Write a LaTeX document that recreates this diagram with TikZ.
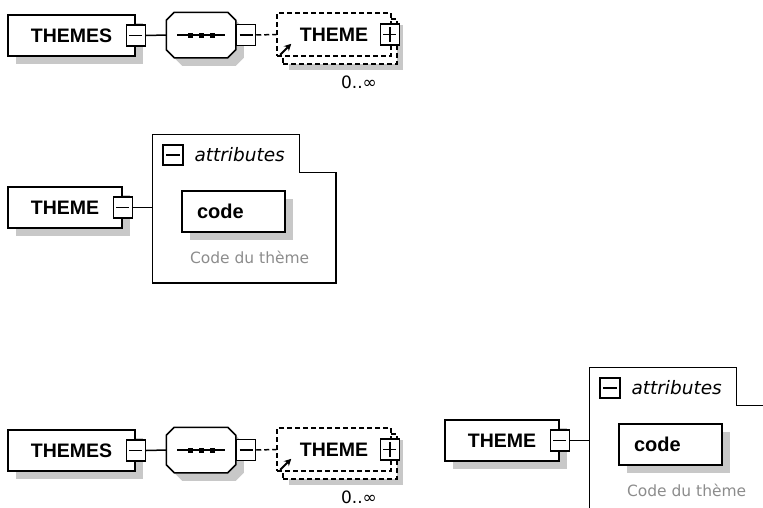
\documentclass[tikz,border=0pt]{standalone}
\usepackage{fontspec}
\setmainfont{DejaVu Sans}
\newfontfamily\labelfont{Liberation Sans}
\usetikzlibrary{shadows,arrows.meta,positioning}
\definecolor{shadowgray}{RGB}{200,200,200}
\definecolor{notegray}{RGB}{140,140,140}

% THEMES -> sequence -> THEME (0..oo)
\newcommand{\ThemesModel}{%
  \node[elem, minimum width=127, minimum height=41] (themes) at (71.5,35.5) {THEMES};
  \node[minusbox] (themes-x) at (themes.east) {};
  \node[minimum width=68, minimum height=44, inner sep=0] (seq) at (201,35) {};
  \filldraw[fill=white, seqshadow]
    ([xshift=8pt]seq.north west) -- ([xshift=-8pt]seq.north east) -- ([yshift=-8pt]seq.north east)
    -- ([yshift=8pt]seq.south east) -- ([xshift=-8pt]seq.south east) -- ([xshift=8pt]seq.south west)
    -- ([yshift=8pt]seq.south west) -- ([yshift=-8pt]seq.north west) -- cycle;
  \draw ([xshift=-24pt]seq.center) -- ([xshift=24pt]seq.center);
  \foreach \dx in {-11,0,11}
    \fill ([xshift=\dx pt]seq.center) +(-2.5,-2.5) rectangle +(2.5,2.5);
  \node[minusbox, anchor=west] (seq-x) at (seq.east) {};
  \draw (themes-x.east) -- (seq.west);
  \node[box, dashline, drop shadow={shadow xshift=6pt, shadow yshift=-6pt, fill=shadowgray, opacity=1},
        minimum width=114, minimum height=45] (theme-back) at (340,41.5) {};
  \node[box, dashline, minimum width=114, minimum height=43] (theme) at (334,34.5) {THEME};
  \node[plusbox] (theme-x) at ([xshift=-2pt]theme.east) {};
  \draw[dashline] (seq-x.east) -- (theme.west);
  \draw[-{Stealth[length=7pt,width=7pt]}, line width=2pt] ([shift={(4,-2)}]theme.south west) -- ++(11,-11);
  \node[occurs] (theme-occ) at (359,82) {0..∞};
}

% THEME with its attributes
\newcommand{\ThemeModel}{%
  \node[elem, minimum width=114, minimum height=41] (theme) at (65,207.5) {THEME};
  \node[minusbox] (theme-x) at (theme.east) {};
  \node[minimum width=182, minimum height=147, inner sep=0] (attrs) at (244,208.5) {};
  \draw (attrs.north west) -- ++(147,0) |- ([yshift=-38pt]attrs.north east)
        -- (attrs.south east) -- (attrs.south west) -- cycle;
  \draw (theme-x.east) -- (theme-x.east -| attrs.west);
  \node[minusbox, minimum width=20, minimum height=20] (attrs-x) at (173,155) {};
  \node[attrtext, right=8pt of attrs-x] (attrs-label) {attributes};
  \node[elem, font=\fontsize{20}{22}\labelfont\bfseries, text width=73, inner xsep=15,
        align=left, minimum height=41] (code) at (233.5,211.5) {code};
  \node[note, below right=16pt and 6pt of code.south west] (code-note) {Code du thème};
}

\begin{document}
\begin{tikzpicture}[x=1pt, y=-1pt, line width=1.5pt,
box/.style={draw, fill=white, inner sep=0, font=\fontsize{19.5}{22}\labelfont\bfseries},
elem/.style={box, drop shadow={shadow xshift=8pt, shadow yshift=-8pt, fill=shadowgray, opacity=1}},
seqshadow/.style={drop shadow={shadow xshift=8pt, shadow yshift=-8pt, fill=shadowgray, opacity=1}},
dashline/.style={dash pattern=on 5pt off 3pt},
expander/.style={draw, fill=white, inner sep=0, minimum width=19, minimum height=21},
minusbox/.style={expander, path picture={
  \draw ([xshift=3pt]path picture bounding box.west) -- ([xshift=-3pt]path picture bounding box.east);}},
plusbox/.style={expander, path picture={
  \draw ([xshift=3pt]path picture bounding box.west) -- ([xshift=-3pt]path picture bounding box.east);
  \draw ([yshift=3pt]path picture bounding box.south) -- ([yshift=-3pt]path picture bounding box.north);}},
attrtext/.style={inner sep=2pt, font=\fontsize{18.5}{20}\selectfont\itshape},
note/.style={inner sep=2pt, text=notegray, font=\fontsize{15.5}{18}\selectfont},
occurs/.style={inner sep=2pt, font=\fontsize{17}{19}\selectfont}]
\useasboundingbox (0,0) rectangle (763,507);
\clip (0,0) rectangle (763,507);

\begin{scope}[name prefix=a-]
  \ThemesModel
\end{scope}
\begin{scope}[name prefix=b-]
  \ThemeModel
\end{scope}
\begin{scope}[shift={(0,415)}, name prefix=c-]
  \ThemesModel
\end{scope}
\begin{scope}[shift={(437,233)}, name prefix=d-]
  \ThemeModel
\end{scope}

\end{tikzpicture}
\end{document}
